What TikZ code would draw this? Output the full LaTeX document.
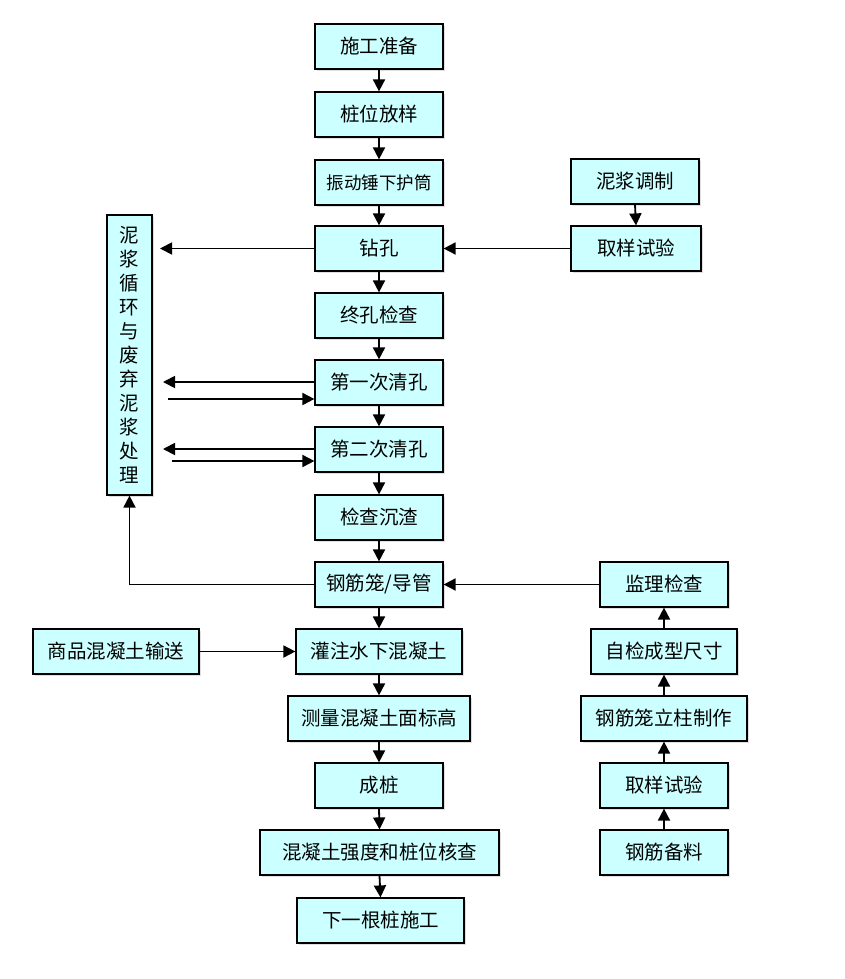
\documentclass[tikz,border=0pt]{standalone}
\usepackage{fontspec}
\setmainfont{Noto Sans CJK SC}
\usetikzlibrary{arrows.meta,shadows}
\definecolor{boxfill}{RGB}{204,255,255}
\begin{document}
\begin{tikzpicture}[x=1pt,y=-1pt,
  box/.style={draw=black,line width=1.2pt,fill=boxfill,minimum height=45pt,inner sep=0pt,
    font=\fontsize{19.5}{22}\selectfont,
    drop shadow={shadow xshift=2pt,shadow yshift=-2pt,opacity=0.25,fill=gray}},
  arr/.style={line width=1.8pt,-{Triangle[length=12pt,width=12pt]}}]
\useasboundingbox (0,0) rectangle (845,979);
% main column
\node[box,minimum width=128pt] (n1) at (379,46.5) {施工准备};
\node[box,minimum width=128pt] (n2) at (379,114.5) {桩位放样};
\node[box,minimum width=128pt,font=\fontsize{17.5}{20}\selectfont] (n3) at (379,182.5) {振动锤下护筒};
\node[box,minimum width=128pt] (n4) at (379,248.5) {钻孔};
\node[box,minimum width=128pt] (n5) at (379,315.5) {终孔检查};
\node[box,minimum width=128pt] (n6) at (379,382.5) {第一次清孔};
\node[box,minimum width=128pt] (n7) at (379,449.5) {第二次清孔};
\node[box,minimum width=128pt] (n8) at (379,517.5) {检查沉渣};
\node[box,minimum width=128pt] (n9) at (379,584.5) {钢筋笼/导管};
\node[box,minimum width=166pt] (n10) at (379,651.5) {灌注水下混凝土};
\node[box,minimum width=182pt] (n11) at (379,718.5) {测量混凝土面标高};
\node[box,minimum width=128pt] (n12) at (379,785.5) {成桩};
\node[box,minimum width=239pt] (n13) at (379.5,852.5) {混凝土强度和桩位核查};
\node[box,minimum width=167pt] (n14) at (380.5,920.5) {下一根桩施工};
% right
\node[box,minimum width=128pt] (r1) at (635,181.5) {泥浆调制};
\node[box,minimum width=130pt] (r2) at (636,248.5) {取样试验};
\node[box,minimum width=128pt] (r3) at (664,584.5) {监理检查};
\node[box,minimum width=146pt] (r4) at (664,651.5) {自检成型尺寸};
\node[box,minimum width=166pt] (r5) at (664,718.5) {钢筋笼立柱制作};
\node[box,minimum width=128pt] (r6) at (664,785.5) {取样试验};
\node[box,minimum width=128pt] (r7) at (664,852.5) {钢筋备料};
% left
\node[box,minimum width=45pt,minimum height=280pt,align=center,
  font=\fontsize{19.5}{24}\selectfont] (L) at (129.5,355)
  {泥\\浆\\循\\环\\与\\废\\弃\\泥\\浆\\处\\理};
\node[box,minimum width=166pt] (c) at (116,651.5) {商品混凝土输送};
% main vertical arrows
\foreach \a/\b in {n1/n2,n2/n3,n3/n4,n4/n5,n5/n6,n6/n7,n7/n8,n8/n9,n9/n10,n10/n11,n11/n12,n12/n13,n13/n14}
  \draw[arr] (\a.south) -- (\b.north);
% right side
\draw[arr] (r1.south) -- (r2.north);
\draw[arr] (r2.west) -- (n4.east);
\draw[arr] (r3.west) -- (n9.east);
\foreach \a/\b in {r7/r6,r6/r5,r5/r4,r4/r3}
  \draw[arr] (\a.north) -- (\b.south);
% left side
\coordinate (k4) at (160,248.5);
\draw[arr] (n4.west) -- (k4);
\coordinate (k6a) at (163,382);
\coordinate (k6b) at (168,399);
\draw[arr] (n6.west |- k6a) -- (k6a);
\draw[arr] (k6b) -- (n6.west |- k6b);
\coordinate (k7a) at (163,449);
\coordinate (k7b) at (172,461);
\draw[arr] (n7.west |- k7a) -- (k7a);
\draw[arr] (k7b) -- (n7.west |- k7b);
\coordinate (k9) at (129.5,584.5);
\draw[arr] (n9.west) -- (k9) -- (L.south);
\draw[arr] (c.east) -- (n10.west);
\end{tikzpicture}
\end{document}
